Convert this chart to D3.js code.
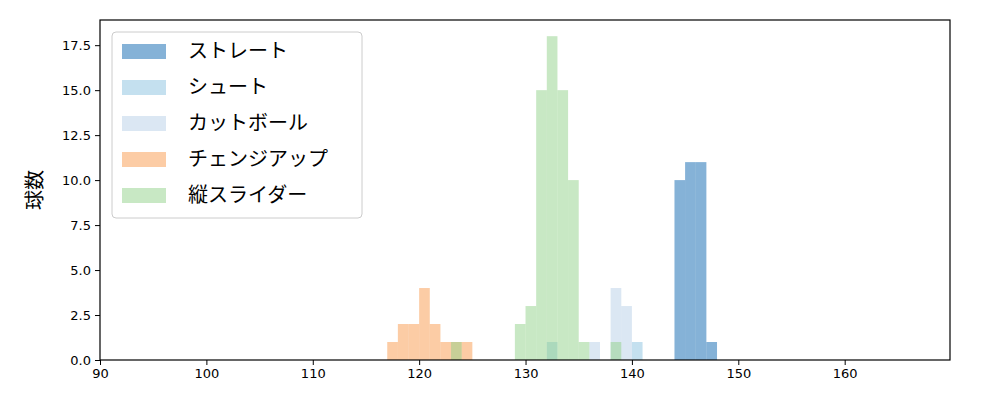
<!DOCTYPE html><html><head><meta charset="utf-8">
<script src="https://cdn.jsdelivr.net/npm/d3@7"></script>
<style>body{margin:0;background:#fff}text{font-family:"Noto Sans CJK JP","DejaVu Sans",sans-serif}</style></head><body>
<svg id="c" width="1000" height="400"></svg>
<script>
const seriesNames=["ストレート","シュート","カットボール","チェンジアップ","縦スライダー"];
const seriesColors=["#0b65af","#8ac2e0","#b7cfe7","#f9994b","#91d189"];
// bins: [x0,x1,count]
const straightBins=[[144,145,10],[145,146,11],[146,147,11],[147,148,1]];
const shootBins=[[132,133,1],[140,141,1]];
const cutterBins=[[136,137,1],[138,139,4],[139,140,3]];
const changeupBins=[[117,118,1],[118,119,2],[119,120,2],[120,121,4],[121,122,2],[122,123,1],[123,124,1],[124,125,1]];
const sliderBins=[[123,124,1],[129,130,2],[130,131,3],[131,132,15],[132,133,18],[133,134,15],[134,135,10],[135,136,1],[138,139,1]];
const allBins=[straightBins,shootBins,cutterBins,changeupBins,sliderBins];
const xTicks=[90,100,110,120,130,140,150,160];
const yTicks=[0,2.5,5,7.5,10,12.5,15,17.5];

const svg=d3.select("#c");
const L=100,R=950,T=20,B=360;
const x=d3.scaleLinear().domain([90,169.9]).range([L,R]);
const y=d3.scaleLinear().domain([0,18.9]).range([B,T]);
allBins.forEach((bins,i)=>{
  svg.append("g").selectAll("rect").data(bins).enter().append("rect")
   .attr("x",d=>x(d[0])).attr("width",d=>x(d[1])-x(d[0]))
   .attr("y",d=>y(d[2])).attr("height",d=>B-y(d[2]))
   .attr("fill",seriesColors[i]).attr("fill-opacity",0.5);
});
const xa=svg.append("g").attr("transform",`translate(0,${B})`).call(d3.axisBottom(x).tickValues(xTicks).tickSize(5).tickPadding(4));
const ya=svg.append("g").attr("transform",`translate(${L},0)`).call(d3.axisLeft(y).tickValues(yTicks).tickFormat(d3.format(".1f")).tickSize(5).tickPadding(4));
[xa,ya].forEach(a=>{a.selectAll("text").attr("font-size",13).attr("fill","#000").style("font-family","'DejaVu Sans',sans-serif");a.select(".domain").remove();a.selectAll("line").attr("stroke","#000")});
svg.append("rect").attr("x",L).attr("y",T).attr("width",R-L).attr("height",B-T).attr("fill","none").attr("stroke","#000").attr("stroke-width",1.2);
svg.append("text").attr("transform","translate(42,190) rotate(-90)").attr("text-anchor","middle").attr("font-size",20).text("球数");
const lg=svg.append("g");
lg.append("rect").attr("x",112).attr("y",32).attr("width",250).attr("height",186).attr("rx",4).attr("fill","#fff").attr("fill-opacity",0.8).attr("stroke","#ccc");
seriesNames.forEach((n,i)=>{
  const cy=51+i*36;
  lg.append("rect").attr("x",122).attr("y",cy-7).attr("width",44).attr("height",15).attr("fill",seriesColors[i]).attr("fill-opacity",0.5);
  lg.append("text").attr("x",188).attr("y",cy+7).attr("font-size",20).text(n);
});
</script></body></html>
